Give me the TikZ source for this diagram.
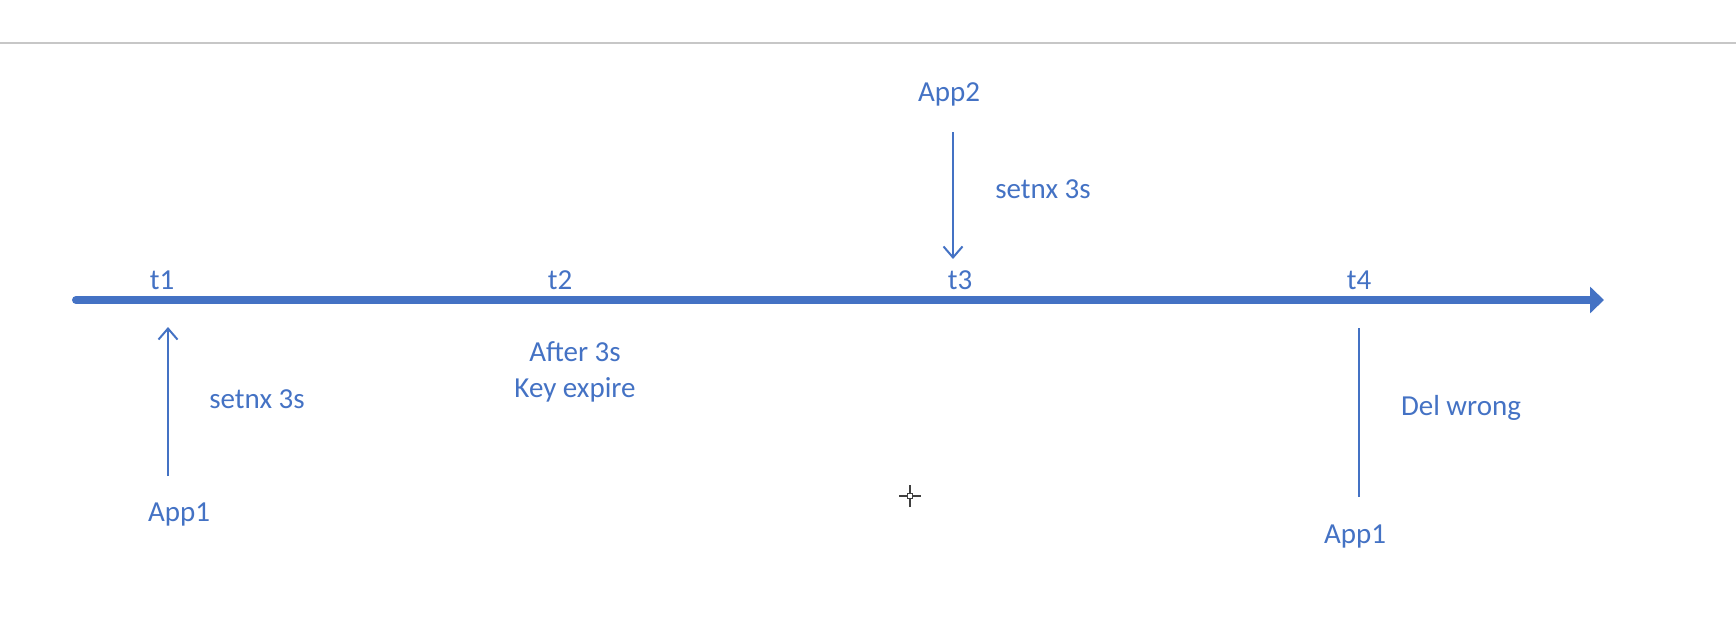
\documentclass[tikz,border=0pt]{standalone}
\usepackage{fontspec}
\setmainfont{Carlito}
\usetikzlibrary{arrows.meta}
\definecolor{officeblue}{HTML}{4472C4}
\tikzset{
	lbl/.style={color=officeblue, inner sep=0pt, font=\fontsize{16.5}{20}\selectfont},
	thinarrow/.style={line width=0.04cm, color=officeblue},
}

\begin{document}
\begin{tikzpicture}
		%%%%% START %%%%%
		\useasboundingbox (0, 0) rectangle (34.72, 12.4);
		
		\draw[line width=0.03cm, color=black!22] (0, 11.54) -- (34.72, 11.54);
		
		% time axis
		\coordinate (axisL) at (1.52, 6.4);
		\coordinate (axisR) at (32.08, 6.4);
		\draw[line width=0.16cm, color=officeblue, line cap=round, -{Triangle[length=0.28cm, width=0.52cm]}] (axisL) -- (axisR);
		
		\node[lbl] (t1) at (3.24, 6.8) {t1};
		\node[lbl] (t2) at (11.2, 6.8) {t2};
		\node[lbl] (t3) at (19.2, 6.8) {t3};
		\node[lbl] (t4) at (27.18, 6.8) {t4};
		
		% App1 at t1
		\node[lbl] (appA) at (3.58, 2.1) {App1};
		\coordinate (upS) at (3.36, 2.88);
		\coordinate (upE) at (3.36, 5.86);
		\draw[thinarrow, -{Straight Barb[length=0.22cm, width=0.38cm]}] (upS) -- (upE);
		\node[lbl] (setA) at (5.14, 4.42) {setnx 3s};
		
		% expire at t2
		\node[lbl, align=center] (expire) at (11.5, 4.96) {After 3s\\[0.03cm]Key expire};
		
		% App2 at t3
		\node[lbl] (appB) at (18.98, 10.52) {App2};
		\coordinate (downS) at (19.06, 9.76);
		\coordinate (downE) at (19.06, 7.22);
		\draw[thinarrow, -{Straight Barb[length=0.22cm, width=0.38cm]}] (downS) -- (downE);
		\node[lbl] (setB) at (20.86, 8.62) {setnx 3s};
		
		% App1 at t4
		\node[lbl] (appC) at (27.1, 1.68) {App1};
		\coordinate (delS) at (27.18, 2.46);
		\coordinate (delE) at (27.18, 5.84);
		\draw[thinarrow] (delS) -- (delE);
		\node[lbl] (del) at (29.22, 4.24) {Del wrong};
		
		% cursor
		\draw[line width=0.04cm, color=black!75] (18.2, 2.26) -- (18.2, 2.7);
		\draw[line width=0.04cm, color=black!75] (17.98, 2.48) -- (18.42, 2.48);
		\draw[fill=white, draw=black!75, line width=0.03cm] (18.15, 2.43) rectangle (18.25, 2.53);
		
		%%%%% END %%%%%
	\end{tikzpicture}
\end{document}
